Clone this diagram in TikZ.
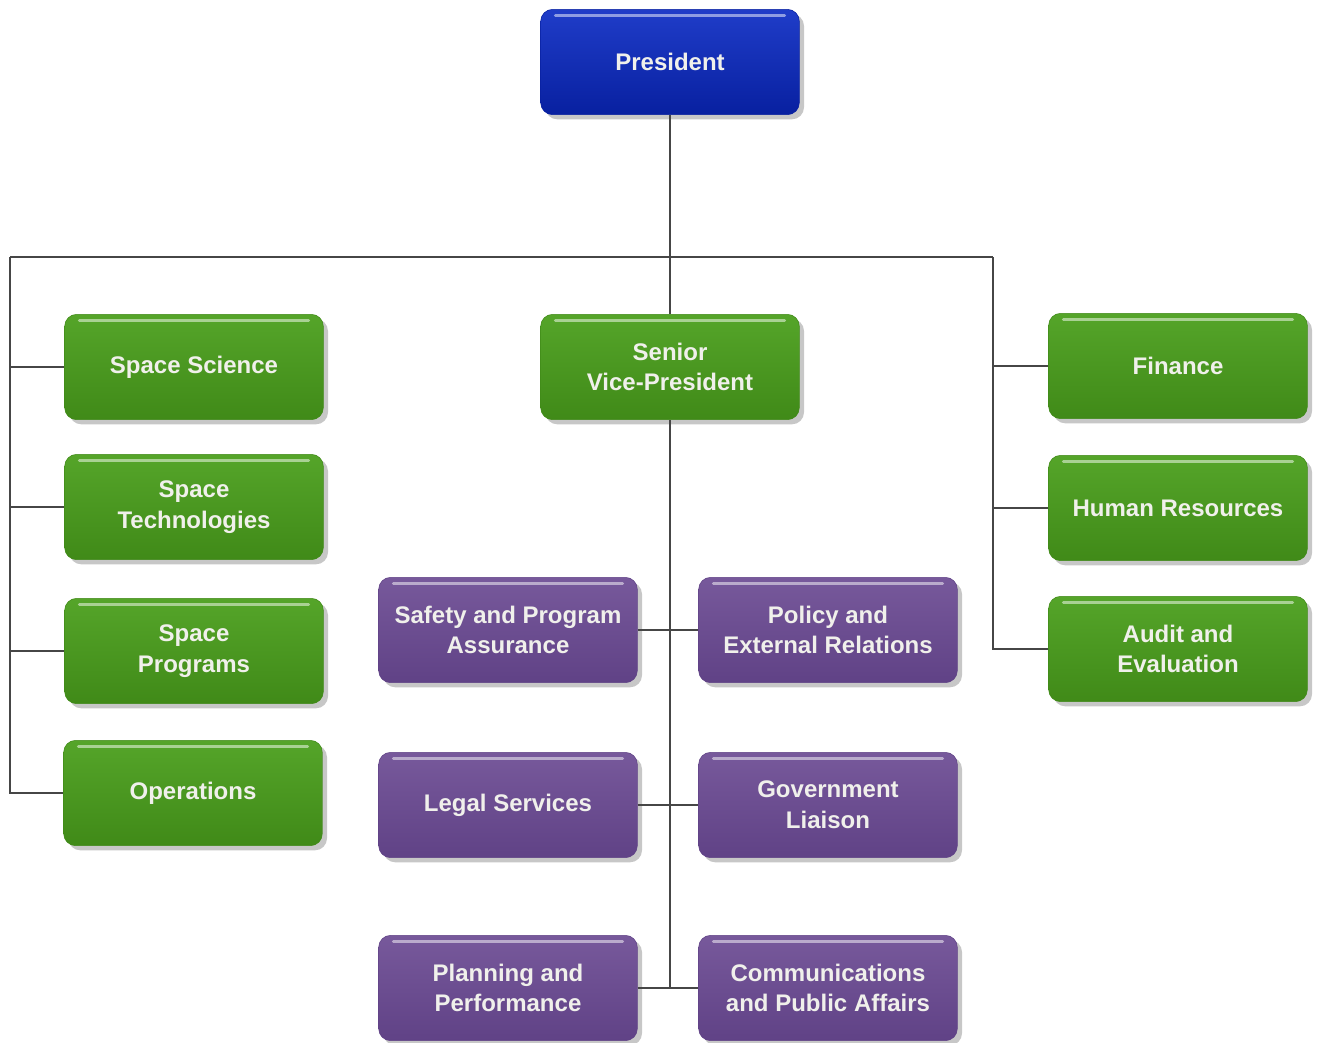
\documentclass[tikz,border=0pt]{standalone}
\usepackage{fontspec}
\setmainfont{Liberation Sans}
\usetikzlibrary{shadows}
\definecolor{boxgreen}{RGB}{76,160,30}
\definecolor{boxgreendk}{RGB}{64,138,24}
\definecolor{boxblue}{RGB}{12,44,196}
\definecolor{boxbluedk}{RGB}{8,32,160}
\definecolor{boxpurple}{RGB}{112,80,150}
\definecolor{boxpurpledk}{RGB}{96,66,134}
\definecolor{linegrey}{RGB}{70,70,70}
\definecolor{labelwhite}{RGB}{240,240,235}
\begin{document}
\begin{tikzpicture}[x=0.75pt,y=-0.75pt,
  unit/.style={rectangle,rounded corners=9pt,minimum width=194pt,minimum height=79pt,
    inner sep=0pt,align=center,text=labelwhite,
    font=\bfseries\fontsize{18}{23}\selectfont,
    drop shadow={shadow xshift=3.5pt,shadow yshift=-3.5pt,opacity=0.4,fill=black!55},
    path picture={\draw[white,opacity=0.5,line width=2.2pt,line cap=round]
      ([xshift=11pt,yshift=-4.5pt]path picture bounding box.north west) --
      ([xshift=-11pt,yshift=-4.5pt]path picture bounding box.north east);}},
  topunit/.style={unit,top color=boxblue!92!white,bottom color=boxbluedk,draw=boxbluedk},
  divunit/.style={unit,top color=boxgreen!95!white,bottom color=boxgreendk,draw=boxgreendk},
  officeunit/.style={unit,top color=boxpurple!95!white,bottom color=boxpurpledk,draw=boxpurpledk},
  link/.style={draw=linegrey,line width=1.1pt}]
  \useasboundingbox (0,0) rectangle (1322,1043);
  % top
  \node[topunit] (pres) at (670,62) {President};
  \node[divunit] (svp) at (670,367) {Senior\\Vice-President};
  % left column
  \node[divunit] (sci) at (194,367) {Space Science};
  \node[divunit] (tech) at (194,507) {Space\\Technologies};
  \node[divunit] (prog) at (194,651) {Space\\Programs};
  \node[divunit] (ops) at (193,793) {Operations};
  % right column
  \node[divunit] (fin) at (1178,366) {Finance};
  \node[divunit] (hr) at (1178,508) {Human Resources};
  \node[divunit] (audit) at (1178,649) {Audit and\\Evaluation};
  % offices
  \node[officeunit] (safety) at (508,630) {Safety and Program\\Assurance};
  \node[officeunit] (policy) at (828,630) {Policy and\\External Relations};
  \node[officeunit] (legal) at (508,805) {Legal Services};
  \node[officeunit] (gov) at (828,805) {Government\\Liaison};
  \node[officeunit] (plan) at (508,988) {Planning and\\Performance};
  \node[officeunit] (comms) at (828,988) {Communications\\and Public Affairs};
  % bus
  \coordinate (busL) at (10,257);
  \coordinate (busR) at (993,257);
  \coordinate (busC) at (670,988);
  % lines
  \draw[link] (pres.south) -- (svp.north);
  \draw[link] (busL) -- (busR);
  \draw[link] (busL) |- (ops.west);
  \draw[link] (busL |- sci.west) -- (sci.west);
  \draw[link] (busL |- tech.west) -- (tech.west);
  \draw[link] (busL |- prog.west) -- (prog.west);
  \draw[link] (busR) |- (audit.west);
  \draw[link] (busR |- fin.west) -- (fin.west);
  \draw[link] (busR |- hr.west) -- (hr.west);
  \draw[link] (svp.south) -- (busC);
  \draw[link] (safety.east) -- (policy.west);
  \draw[link] (legal.east) -- (gov.west);
  \draw[link] (plan.east) -- (comms.west);
\end{tikzpicture}
\end{document}
